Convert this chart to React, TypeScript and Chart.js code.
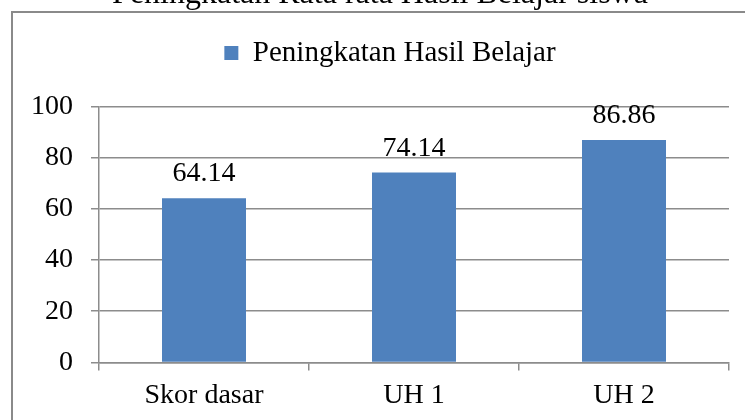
import React, { useEffect, useRef } from "react";
import { Chart, registerables } from "chart.js";

Chart.register(...registerables);

const categories = ["Skor dasar", "UH 1", "UH 2"];
const seriesName = "Peningkatan Hasil Belajar";
const seriesValues = [64.14, 74.14, 86.86];
const chartTitle = "Peningkatan Rata rata Hasil Belajar siswa";
const yTicks = [0, 20, 40, 60, 80, 100];

const FONT = "'Liberation Serif', 'Times New Roman', serif";
const GRID = "#8c8c8c";
const BAR = "#4F81BD";

const borderPlugin = {
  id: "outerBorder",
  beforeDraw(chart: any) {
    const ctx = chart.ctx;
    ctx.save();
    ctx.strokeStyle = "#8a8a8a";
    ctx.lineWidth = 2;
    ctx.strokeRect(12, 42, 900, 600);
    ctx.restore();
  },
};

const legendSpacer = {
  id: "legendSpacer",
  beforeInit(chart: any) {
    const legend = chart.legend;
    if (!legend) return;
    const origFit = legend.fit;
    legend.fit = function () {
      origFit.call(this);
      this.height += 29;
    };
  },
  afterLayout(chart: any) {
    if (chart.legend) chart.legend.left += 20;
  },
};

const dataLabels = {
  id: "dataLabels",
  afterDatasetsDraw(chart: any) {
    const ctx = chart.ctx;
    const meta = chart.getDatasetMeta(0);
    ctx.save();
    ctx.font = `28px ${FONT}`;
    ctx.fillStyle = "#000";
    ctx.textAlign = "center";
    ctx.textBaseline = "alphabetic";
    meta.data.forEach((bar: any, i: number) => {
      const v = chart.data.datasets[0].data[i] as number;
      ctx.fillText(v.toFixed(2), bar.x, bar.y - 17);
    });
    ctx.restore();
  },
};

export default function App() {
  const ref = useRef<HTMLCanvasElement>(null);
  useEffect(() => {
    if (!ref.current) return;
    const chart = new Chart(ref.current, {
      type: "bar",
      data: {
        labels: categories,
        datasets: [
          {
            label: seriesName,
            data: seriesValues,
            backgroundColor: BAR,
            borderWidth: 0,
            categoryPercentage: 0.4,
            barPercentage: 1.0,
          },
        ],
      },
      plugins: [borderPlugin, legendSpacer, dataLabels],
      options: {
        responsive: false,
        animation: false,
        devicePixelRatio: 1,
        layout: { padding: { top: 0, left: 31, right: 16, bottom: 0 } },
        plugins: {
          title: {
            display: true,
            text: chartTitle,
            color: "#000",
            font: { family: FONT, size: 32, weight: "normal", lineHeight: 1.2 },
            padding: { top: 5, bottom: 15 },
          },
          legend: {
            display: true,
            position: "top",
            labels: {
              color: "#000",
              font: { family: FONT, size: 29 },
              boxWidth: 14,
              boxHeight: 14,
              padding: 10,
            },
          },
          tooltip: { enabled: false },
        },
        scales: {
          x: {
            offset: true,
            grid: {
              display: true,
              drawOnChartArea: false,
              drawTicks: true,
              tickLength: 8,
              offset: true,
              color: GRID,
              lineWidth: 1.5,
            },
            border: { display: true, color: GRID, width: 1.5 },
            ticks: {
              color: "#000",
              font: { family: FONT, size: 28 },
              padding: 8,
              maxRotation: 0,
            },
          },
          y: {
            min: 0,
            max: 100,
            afterBuildTicks(axis: any) {
              axis.ticks = yTicks.map((v) => ({ value: v }));
            },
            afterFit(axis: any) {
              axis.width = 68;
            },
            grid: {
              color: GRID,
              lineWidth: 1.5,
              tickLength: 8,
              drawTicks: true,
            },
            border: { display: true, color: GRID, width: 1.5 },
            ticks: {
              color: "#000",
              font: { family: FONT, size: 28 },
              padding: 18,
            },
          },
        },
      },
    });
    return () => chart.destroy();
  }, []);

  return (
    <div
      style={{
        position: "fixed",
        left: 0,
        top: 0,
        width: 745,
        height: 420,
        overflow: "hidden",
        background: "#fff",
      }}
    >
      <canvas
        ref={ref}
        width={745}
        height={450}
        style={{ position: "absolute", left: 0, top: -30, width: 745, height: 450 }}
      />
    </div>
  );
}
